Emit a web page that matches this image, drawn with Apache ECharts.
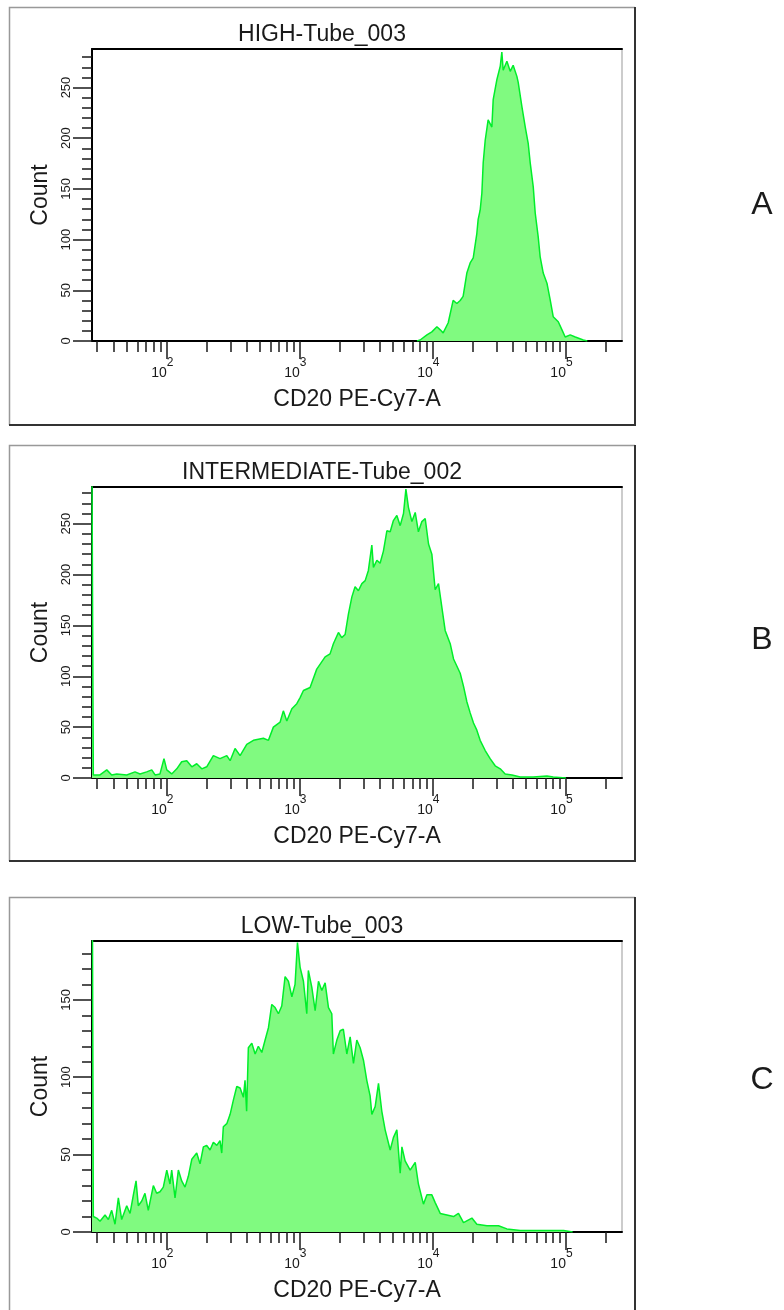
<!DOCTYPE html>
<html>
<head>
<meta charset="utf-8">
<title>CD20 PE-Cy7-A histograms</title>
<script src="https://cdn.jsdelivr.net/npm/echarts@6/dist/echarts.min.js"></script>
<style>
  html, body { margin: 0; padding: 0; background: #fff; }
  #chart { width: 784px; height: 1310px; }
</style>
</head>
<body>
<div id="chart"></div>
<script>
// x values are log10(CD20 PE-Cy7-A), counts are events per bin
const highX = [3.880, 3.904, 3.955, 3.992, 4.030, 4.055, 4.077, 4.115, 4.152, 4.180, 4.205, 4.227, 4.255, 4.280,
  4.303, 4.330, 4.340, 4.355, 4.368, 4.378, 4.393, 4.415, 4.443, 4.453, 4.481, 4.506, 4.518, 4.528, 4.556, 4.581,
  4.603, 4.631, 4.641, 4.669, 4.694, 4.716, 4.731, 4.754, 4.769, 4.791, 4.806, 4.829, 4.857, 4.882, 4.904, 4.942,
  4.970, 4.994, 5.032, 5.070, 5.130, 5.160];
const highCount = [0, 1, 6, 9, 14, 11, 8, 18, 40, 37, 40, 44, 67, 77,
  82, 106, 120, 129, 146, 176, 198, 218, 211, 238, 258, 271, 285, 267, 276, 266,
  272, 261, 255, 231, 211, 195, 176, 152, 126, 103, 83, 67, 57, 40, 24, 19,
  11, 4, 6, 4, 1, 0];

const interX = [1.438, 1.448, 1.498, 1.549, 1.586, 1.624, 1.699, 1.761, 1.799, 1.849, 1.887, 1.912, 1.949, 1.979,
  2.000, 2.037, 2.075, 2.112, 2.150, 2.188, 2.225, 2.263, 2.300, 2.350, 2.400, 2.451, 2.476, 2.513, 2.551, 2.601,
  2.651, 2.726, 2.764, 2.801, 2.852, 2.876, 2.902, 2.940, 2.977, 3.002, 3.027, 3.077, 3.127, 3.190, 3.227, 3.252,
  3.290, 3.315, 3.340, 3.365, 3.391, 3.415, 3.440, 3.466, 3.491, 3.515, 3.541, 3.553, 3.579, 3.603, 3.628, 3.654,
  3.679, 3.703, 3.729, 3.754, 3.779, 3.797, 3.816, 3.842, 3.867, 3.891, 3.917, 3.942, 3.967, 3.992, 4.017, 4.042,
  4.067, 4.092, 4.130, 4.155, 4.205, 4.230, 4.255, 4.280, 4.305, 4.330, 4.355, 4.393, 4.430, 4.468, 4.506, 4.543,
  4.594, 4.656, 4.754, 4.857, 4.904, 5.000];
const interCount = [300, 3, 3, 8, 3, 4, 3, 6, 4, 6, 8, 3, 4, 19,
  8, 4, 9, 16, 17, 11, 14, 9, 11, 22, 19, 22, 17, 29, 22, 33,
  37, 39, 37, 50, 55, 66, 56, 68, 73, 79, 86, 89, 107, 119, 122, 132,
  143, 138, 141, 161, 178, 188, 184, 191, 194, 204, 229, 207, 214, 211, 223, 243,
  242, 253, 258, 248, 260, 284, 266, 252, 261, 242, 252, 255, 230, 220, 185, 191,
  168, 145, 132, 117, 103, 90, 75, 64, 54, 47, 37, 27, 19, 12, 9, 4,
  3, 1, 1, 2, 1, 0];

const lowX = [1.438, 1.448, 1.473, 1.498, 1.536, 1.561, 1.586, 1.611, 1.636, 1.661, 1.699, 1.724, 1.749, 1.769,
  1.786, 1.812, 1.836, 1.861, 1.899, 1.924, 1.949, 1.974, 2.000, 2.024, 2.037, 2.062, 2.087, 2.112, 2.137, 2.162,
  2.188, 2.225, 2.250, 2.275, 2.300, 2.325, 2.350, 2.376, 2.400, 2.413, 2.425, 2.451, 2.476, 2.500, 2.526, 2.551,
  2.576, 2.588, 2.600, 2.613, 2.639, 2.664, 2.688, 2.714, 2.739, 2.764, 2.789, 2.814, 2.839, 2.864, 2.889, 2.914,
  2.940, 2.964, 2.982, 3.002, 3.027, 3.052, 3.064, 3.090, 3.115, 3.140, 3.165, 3.190, 3.215, 3.240, 3.252, 3.278,
  3.303, 3.327, 3.353, 3.378, 3.403, 3.428, 3.453, 3.478, 3.503, 3.528, 3.541, 3.566, 3.591, 3.616, 3.641, 3.679,
  3.703, 3.729, 3.754, 3.767, 3.791, 3.829, 3.867, 3.891, 3.929, 3.955, 3.992, 4.017, 4.055, 4.105, 4.155, 4.192,
  4.230, 4.293, 4.330, 4.406, 4.493, 4.556, 4.656, 4.756, 4.882, 4.982, 5.050];
const lowCount = [300, 10, 9, 7, 11, 8, 14, 5, 22, 8, 17, 12, 24, 33,
  17, 20, 25, 14, 30, 25, 26, 29, 40, 31, 40, 22, 40, 33, 29, 36,
  47, 51, 44, 55, 56, 53, 58, 56, 59, 51, 68, 70, 76, 85, 94, 93,
  87, 98, 78, 119, 122, 115, 120, 116, 124, 132, 147, 145, 141, 146, 165, 162,
  152, 160, 187, 171, 162, 141, 169, 158, 143, 162, 156, 161, 145, 141, 115, 124,
  130, 131, 115, 126, 109, 124, 119, 111, 98, 88, 76, 81, 96, 78, 66, 53,
  61, 66, 38, 55, 46, 40, 45, 31, 18, 24, 24, 19, 12, 11, 10, 12,
  6, 9, 5, 4, 4, 2, 1, 1, 1, 1, 0];

// axis ticks
const xDecades = [2, 3, 4, 5];
const xMinorTickValues = [30, 40, 50, 60, 70, 80, 90, 200, 300, 400, 500, 600, 700, 800, 900,
  2000, 3000, 4000, 5000, 6000, 7000, 8000, 9000, 20000, 30000, 40000, 50000, 60000, 70000, 80000, 90000, 200000];
const countLabelsAB = [0, 50, 100, 150, 200, 250];
const countMinorAB = [0, 10, 20, 30, 40, 50, 60, 70, 80, 90, 100, 110, 120, 130, 140, 150, 160, 170, 180, 190,
  200, 210, 220, 230, 240, 250, 260, 270, 280];
const countLabelsC = [0, 50, 100, 150];
const countMinorC = [0, 10, 20, 30, 40, 50, 60, 70, 80, 90, 100, 110, 120, 130, 140, 150, 160, 170, 180];

const X_MIN = 1.438;
const X_MAX = 5.421;
const FONT = 'Liberation Sans, Arial, sans-serif';
const INK = '#1a1a1a';

const panels = [
  { title: 'HIGH-Tube_003', letter: 'A', xs: highX, ys: highCount, yMax: 288,
    labels: countLabelsAB, minor: countMinorAB, top: 49, height: 292, frameTop: 7, frameBottom: 425, letterY: 205 },
  { title: 'INTERMEDIATE-Tube_002', letter: 'B', xs: interX, ys: interCount, yMax: 286,
    labels: countLabelsAB, minor: countMinorAB, top: 487, height: 291, frameTop: 445, frameBottom: 861, letterY: 640 },
  { title: 'LOW-Tube_003', letter: 'C', xs: lowX, ys: lowCount, yMax: 188,
    labels: countLabelsC, minor: countMinorC, top: 941, height: 291, frameTop: 897, frameBottom: 1340, letterY: 1080 }
];

const chart = echarts.init(document.getElementById('chart'));

const grid = [], xAxis = [], yAxis = [], series = [], graphic = [];

panels.forEach((p, i) => {
  grid.push({
    left: 92, top: p.top, width: 530, height: p.height,
    show: true, borderColor: '#999', borderWidth: 1, backgroundColor: 'transparent'
  });

  // bottom axis: decades with labels
  xAxis.push({
    gridIndex: i, type: 'value', position: 'bottom', min: X_MIN, max: X_MAX,
    axisLine: { show: true, onZero: false, lineStyle: { color: '#000', width: 2 } },
    axisTick: { show: true, customValues: xDecades, length: 18, lineStyle: { color: INK, width: 1.5 } },
    axisLabel: {
      customValues: xDecades, margin: 23,
      formatter: v => '{b|10}{s|' + Math.round(v) + '}',
      rich: {
        b: { fontFamily: FONT, fontSize: 14, lineHeight: 16, color: INK, verticalAlign: 'bottom' },
        s: { fontFamily: FONT, fontSize: 12, lineHeight: 16, color: INK, verticalAlign: 'bottom', padding: [0, 9, 11, 0] }
      }
    },
    splitLine: { show: false },
    name: 'CD20 PE-Cy7-A', nameLocation: 'middle', nameGap: 47,
    nameTextStyle: { fontFamily: FONT, fontSize: 23, color: INK }
  });
  // bottom axis: minor ticks
  xAxis.push({
    gridIndex: i, type: 'value', position: 'bottom', min: X_MIN, max: X_MAX,
    axisLine: { show: false },
    axisTick: { show: true, customValues: xMinorTickValues.map(v => Math.log10(v)), length: 11,
      lineStyle: { color: INK, width: 1.5 } },
    axisLabel: { show: false },
    splitLine: { show: false }
  });
  // top edge of the plot box
  xAxis.push({
    gridIndex: i, type: 'value', position: 'top', min: X_MIN, max: X_MAX,
    axisLine: { show: true, onZero: false, lineStyle: { color: '#000', width: 2 } },
    axisTick: { show: false }, axisLabel: { show: false }, splitLine: { show: false }
  });

  yAxis.push({
    gridIndex: i, type: 'value', position: 'left', min: 0, max: p.yMax,
    axisLine: { show: true, onZero: false, lineStyle: { color: '#000', width: 2 } },
    axisTick: { show: true, customValues: p.labels, length: 19, lineStyle: { color: INK, width: 1.5 } },
    axisLabel: { customValues: p.labels, rotate: 90, margin: 19, fontFamily: FONT, fontSize: 13, color: INK },
    splitLine: { show: false },
    name: 'Count', nameLocation: 'middle', nameGap: 37,
    nameTextStyle: { fontFamily: FONT, fontSize: 23, color: INK }
  });
  yAxis.push({
    gridIndex: i, type: 'value', position: 'left', min: 0, max: p.yMax,
    axisLine: { show: false },
    axisTick: { show: true, customValues: p.minor, length: 10, lineStyle: { color: INK, width: 1.5 } },
    axisLabel: { show: false },
    splitLine: { show: false }
  });

  series.push({
    type: 'line', xAxisIndex: 3 * i, yAxisIndex: 2 * i,
    data: p.xs.map((x, k) => [x, p.ys[k]]),
    symbol: 'none', clip: true,
    lineStyle: { color: '#00ee2a', width: 1.5 },
    areaStyle: { color: '#80fa80', opacity: 1 }
  });

  // outer frame of the panel
  graphic.push({
    type: 'polyline', silent: true,
    shape: { points: [[9.5, p.frameBottom], [9.5, p.frameTop + 0.5], [635, p.frameTop + 0.5]] },
    style: { stroke: '#999', lineWidth: 1.5, fill: null }
  });
  graphic.push({
    type: 'polyline', silent: true,
    shape: { points: [[635, p.frameTop], [635, p.frameBottom], [9, p.frameBottom]] },
    style: { stroke: '#333', lineWidth: 2, fill: null }
  });
  graphic.push({
    type: 'text', silent: true, x: 322, y: p.top - 14,
    style: { text: p.title, font: '23px ' + FONT, fill: INK, align: 'center', verticalAlign: 'middle' }
  });
  graphic.push({
    type: 'text', silent: true, x: 762, y: p.letterY,
    style: { text: p.letter, font: '32px ' + FONT, fill: INK, align: 'center', verticalAlign: 'middle' }
  });
});

chart.setOption({
  animation: false,
  backgroundColor: '#fff',
  grid, xAxis, yAxis, series, graphic
});
</script>
</body>
</html>
